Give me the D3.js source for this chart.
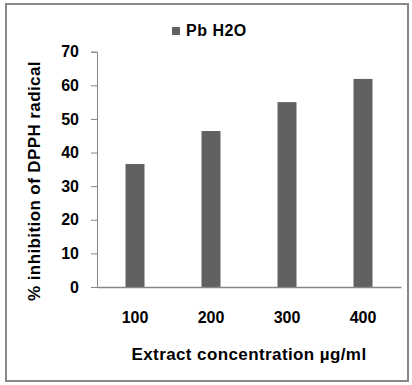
<!DOCTYPE html>
<html lang="en">
  <head>
    <meta charset="utf-8">
    <title>DPPH inhibition</title>
    <script type="text/javascript" src="https://cdn.jsdelivr.net/npm/d3@7"></script>
    <style>
      body { margin: 0; background: #fff; }
      text { font-family: Arial, "Liberation Sans", sans-serif; font-weight: bold; fill: #000; }
    </style>
  </head>
  <body>
    <script type="text/javascript">
    // data
    var concentrations = ["100", "200", "300", "400"];
    var inhibition = [36.6, 46.4, 55.0, 61.9];
    var yTicks = [0, 10, 20, 30, 40, 50, 60, 70];
    var seriesName = "Pb H2O";

    var w = 412;
    var h = 385;

    var svg = d3.select("body")
                .append("svg")
                .attr("width", w)
                .attr("height", h);

    // outer chart frame
    svg.append("rect")
       .attr("x", 6).attr("y", 4)
       .attr("width", 402).attr("height", 377)
       .attr("fill", "none")
       .attr("stroke", "#888")
       .attr("stroke-width", 2);

    // plot area edges
    var plotLeft = 97, plotRight = 401, plotTop = 51.7, plotBottom = 287;

    var xScale = d3.scaleBand()
                   .domain(concentrations)
                   .range([plotLeft, plotRight])
                   .paddingInner(0.75)
                   .paddingOuter(0.375);

    var yScale = d3.scaleLinear()
                   .domain([0, 70])
                   .range([plotBottom, plotTop]);

    // y axis
    var yAxis = d3.axisLeft(yScale)
                  .tickValues(yTicks)
                  .tickSize(6)
                  .tickPadding(12)
                  .tickFormat(d3.format("d"));

    var gy = svg.append("g")
                .attr("transform", "translate(" + plotLeft + ",0)")
                .call(yAxis);
    gy.select(".domain").attr("stroke", "#868686");
    gy.selectAll(".tick line").attr("stroke", "#868686");
    gy.selectAll(".tick text")
      .attr("font-size", 16)
      .attr("font-family", "Arial, 'Liberation Sans', sans-serif")
      .attr("font-weight", "bold")
      .attr("fill", "#000");

    // bars
    svg.selectAll("rect.bar")
       .data(inhibition)
       .enter()
       .append("rect")
       .attr("class", "bar")
       .attr("x", function(d, i) { return xScale(concentrations[i]); })
       .attr("y", function(d) { return yScale(d); })
       .attr("width", xScale.bandwidth())
       .attr("height", function(d) { return plotBottom - yScale(d); })
       .attr("fill", "#616161");

    // x axis (no tick marks)
    var xAxis = d3.axisBottom(xScale)
                  .tickSize(0)
                  .tickPadding(25);

    var gx = svg.append("g")
                .attr("transform", "translate(0," + plotBottom + ")")
                .call(xAxis);
    gx.select(".domain").attr("stroke", "#868686").attr("stroke-width", 1.5);
    gx.selectAll(".tick text")
      .attr("font-size", 16)
      .attr("font-family", "Arial, 'Liberation Sans', sans-serif")
      .attr("font-weight", "bold")
      .attr("fill", "#000");

    // axis titles
    svg.append("text")
       .attr("x", (plotLeft + plotRight) / 2)
       .attr("y", 360)
       .attr("text-anchor", "middle")
       .attr("font-size", 17)
       .attr("letter-spacing", 0.4)
       .text("Extract concentration \u00b5g/ml");

    svg.append("text")
       .attr("transform", "translate(40,181) rotate(-90)")
       .attr("text-anchor", "middle")
       .attr("font-size", 17)
       .attr("letter-spacing", 0.4)
       .text("% inhibition of DPPH radical");

    // legend
    svg.append("rect")
       .attr("x", 172).attr("y", 27)
       .attr("width", 8).attr("height", 8)
       .attr("fill", "#616161");

    svg.append("text")
       .attr("x", 186)
       .attr("y", 36)
       .attr("font-size", 16)
       .attr("letter-spacing", 0.5)
       .text(seriesName);
    </script>
  </body>
</html>
